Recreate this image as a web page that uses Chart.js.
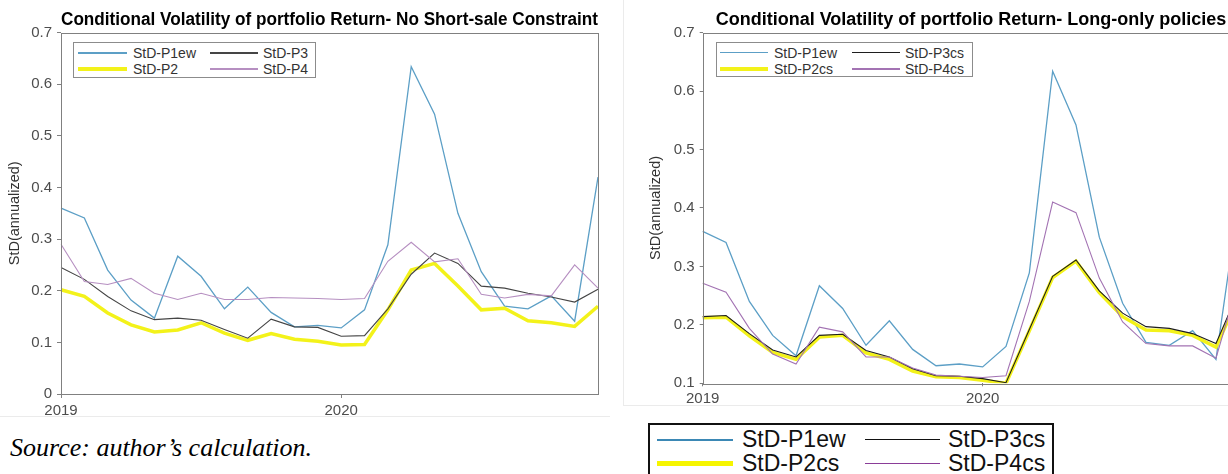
<!DOCTYPE html>
<html>
<head>
<meta charset="utf-8">
<script src="https://cdn.jsdelivr.net/npm/chart.js@4.4.1/dist/chart.umd.min.js"></script>
<style>
  html, body { margin: 0; padding: 0; background: #fff; }
  body { width: 1228px; height: 474px; overflow: hidden; position: relative; font-family: "Liberation Sans", Arial, sans-serif; }
  canvas { position: absolute; top: 0; }
  #graficoIzq { left: 0; }
  #graficoDer { left: 640px; }
  .caja { position: absolute; background: #fff; box-sizing: border-box; }
  .linea { position: absolute; }
  .texto { position: absolute; white-space: nowrap; }
  .borde { position: absolute; background: #ebebeb; }
  #fuente { position: absolute; left: 10px; top: 435px; line-height: 26px; font-family: "Liberation Serif", "Times New Roman", serif; font-style: italic; font-size: 26px; color: #000; }
</style>
</head>
<body>
<div class="borde" style="left:0;top:416px;width:610px;height:1px"></div>
<div class="borde" style="left:623px;top:0;width:1px;height:405px"></div>
<div class="borde" style="left:623px;top:405px;width:605px;height:1px"></div>

<canvas id="graficoIzq" width="610" height="430"></canvas>
<canvas id="graficoDer" width="610" height="420"></canvas>

<div class="caja" style="left:73px;top:42px;width:243px;height:36px;border:1px solid #8c8c8c"></div>
<div class="caja" style="left:716px;top:42px;width:257px;height:35px;border:1px solid #8c8c8c"></div>
<div class="caja" style="left:648px;top:423px;width:406px;height:70px;border:2px solid #111"></div>

<div id="fuente">Source: author’s calculation.</div>

<script>
// meses (enero 2019 - diciembre 2020)
const meses = ['2019-01', '2019-02', '2019-03', '2019-04', '2019-05', '2019-06',
               '2019-07', '2019-08', '2019-09', '2019-10', '2019-11', '2019-12',
               '2020-01', '2020-02', '2020-03', '2020-04', '2020-05', '2020-06',
               '2020-07', '2020-08', '2020-09', '2020-10', '2020-11', '2020-12'];
const anios = ['2019', '2020'];

// sin restriccion de venta en corto
const p1ew = [0.360, 0.341, 0.240, 0.182, 0.147, 0.267, 0.228, 0.165, 0.207, 0.158, 0.130, 0.133,
              0.128, 0.163, 0.289, 0.634, 0.542, 0.350, 0.237, 0.170, 0.165, 0.190, 0.141, 0.420];
const p2 = [0.202, 0.189, 0.157, 0.134, 0.120, 0.124, 0.138, 0.118, 0.104, 0.117, 0.106, 0.102,
            0.095, 0.096, 0.163, 0.240, 0.253, 0.209, 0.163, 0.166, 0.142, 0.138, 0.131, 0.170];
const p3 = [0.245, 0.222, 0.189, 0.161, 0.144, 0.147, 0.143, 0.125, 0.108, 0.145, 0.130, 0.129,
            0.112, 0.113, 0.165, 0.232, 0.273, 0.253, 0.209, 0.205, 0.195, 0.188, 0.178, 0.203];
const p4 = [0.290, 0.218, 0.212, 0.224, 0.195, 0.183, 0.195, 0.183, 0.183, 0.187, 0.186, 0.185,
            0.183, 0.185, 0.257, 0.294, 0.256, 0.262, 0.193, 0.186, 0.193, 0.190, 0.250, 0.205];

// solo posiciones largas
const p2cs = [0.212, 0.213, 0.181, 0.153, 0.141, 0.179, 0.182, 0.152, 0.141, 0.121, 0.111, 0.110,
              0.105, 0.100, 0.190, 0.281, 0.309, 0.255, 0.214, 0.191, 0.190, 0.182, 0.162, 0.250];
const p3cs = [0.214, 0.216, 0.185, 0.157, 0.145, 0.182, 0.184, 0.156, 0.145, 0.125, 0.113, 0.112,
              0.108, 0.101, 0.192, 0.283, 0.311, 0.258, 0.220, 0.197, 0.194, 0.185, 0.168, 0.260];
const p4cs = [0.271, 0.256, 0.194, 0.150, 0.133, 0.196, 0.188, 0.145, 0.145, 0.126, 0.114, 0.112,
              0.110, 0.113, 0.240, 0.410, 0.392, 0.280, 0.205, 0.168, 0.164, 0.164, 0.143, 0.280];

const azul = '#5c9fc6';
const amarillo = '#f3f21a';
const grisOscuro = '#454545';
const lila = '#b68fc1';
const violeta = '#a373b3';

Chart.defaults.font.family = '"Liberation Sans", Arial, sans-serif';

// recuadro del area de trazado (estilo matlab)
const marco = {
    id: 'marco',
    afterDatasetsDraw(chart) {
        const { ctx, chartArea: a } = chart;
        ctx.save();
        ctx.strokeStyle = '#808080';
        ctx.lineWidth = 1;
        ctx.strokeRect(Math.round(a.left) + 0.5, Math.round(a.top) + 0.5,
                       Math.round(a.right - a.left), Math.round(a.bottom - a.top));
        ctx.restore();
    }
};

function serie(label, data, color, ancho, orden) {
    return { label: label, data: data, borderColor: color, backgroundColor: color,
             borderWidth: ancho, pointRadius: 0, tension: 0, fill: false, order: orden };
}

// titulo con fullSize false: queda centrado sobre el area de trazado
function opciones(titulo, yMin, anchoY, altoX, padDer, largoTick, padTituloY) {
    return {
        responsive: false,
        animation: false,
        layout: { padding: { left: 0, right: padDer, top: 0, bottom: 0 } },
        plugins: {
            legend: { display: false },
            tooltip: { enabled: false },
            title: {
                display: true, text: titulo, color: '#000', fullSize: false,
                font: { size: 18, weight: 'bold' },
                padding: { top: 9, bottom: 2 }
            }
        },
        scales: {
            x: {
                type: 'category',
                border: { display: false },
                grid: { drawOnChartArea: false, tickLength: largoTick, color: '#808080' },
                ticks: {
                    autoSkip: false, maxRotation: 0, padding: 4,
                    color: '#4d4d4d', font: { size: 15 },
                    callback: (v, i) => (i % 12 === 0 ? anios[i / 12] : null)
                },
                afterFit: s => { s.height = altoX; }
            },
            y: {
                min: yMin, max: 0.7,
                border: { display: false },
                grid: { drawOnChartArea: false, tickLength: largoTick, color: '#808080' },
                ticks: { stepSize: 0.1, padding: 5, color: '#4d4d4d', font: { size: 15 } },
                title: {
                    display: true, text: 'StD(annualized)', color: '#333',
                    font: { size: 14.5 }, padding: { top: padTituloY, bottom: 0 }
                },
                afterFit: s => { s.width = anchoY; }
            }
        }
    };
}

new Chart(document.getElementById('graficoIzq'), {
    type: 'line',
    data: {
        labels: meses,
        datasets: [
            serie('StD-P1ew', p1ew, azul, 1.3, 4),
            serie('StD-P2', p2, amarillo, 3.5, 3),
            serie('StD-P3', p3, grisOscuro, 1.1, 2),
            serie('StD-P4', p4, lila, 1.1, 1)
        ]
    },
    options: opciones('Conditional Volatility of portfolio Return- No Short-sale Constraint',
                      0, 61, 36, 12, 4, 6),
    plugins: [marco]
});

new Chart(document.getElementById('graficoDer'), {
    type: 'line',
    data: {
        labels: meses,
        datasets: [
            serie('StD-P1ew', p1ew, azul, 1.3, 4),
            serie('StD-P2cs', p2cs, amarillo, 3.5, 3),
            serie('StD-P3cs', p3cs, '#1e1e1e', 1.1, 2),
            serie('StD-P4cs', p4cs, violeta, 1.1, 1)
        ]
    },
    options: opciones('Conditional Volatility of portfolio Return- Long-only policies',
                      0.1, 62.7, 36.7, 10.7, 3, 6.8),
    plugins: [marco]
});

// leyendas en html
function entrada(x1, x2, cy, color, grosor, xTexto, texto, tam, colorTexto) {
    const l = document.createElement('div');
    l.className = 'linea';
    l.style.cssText = `left:${x1}px;top:${cy - grosor / 2}px;width:${x2 - x1}px;height:${grosor}px;background:${color}`;
    document.body.appendChild(l);
    const t = document.createElement('div');
    t.className = 'texto';
    t.textContent = texto;
    t.style.cssText = `left:${xTexto}px;top:${cy - tam / 2}px;font-size:${tam}px;line-height:${tam}px;color:${colorTexto}`;
    document.body.appendChild(t);
}

entrada(78, 127, 53, azul, 1.3, 133, 'StD-P1ew', 14, '#333');
entrada(78, 127, 69, amarillo, 3.5, 133, 'StD-P2', 14, '#333');
entrada(210, 258, 53, grisOscuro, 1.1, 263, 'StD-P3', 14, '#333');
entrada(210, 258, 69, lila, 1.1, 263, 'StD-P4', 14, '#333');

entrada(720, 768, 52.5, azul, 1.3, 774, 'StD-P1ew', 14, '#333');
entrada(720, 768, 69, amarillo, 3.5, 774, 'StD-P2cs', 14, '#333');
entrada(852, 900, 52.5, '#1e1e1e', 1.1, 905, 'StD-P3cs', 14, '#333');
entrada(852, 900, 69, violeta, 1.1, 905, 'StD-P4cs', 14, '#333');

entrada(657, 733, 439.5, '#3b88b5', 2, 742, 'StD-P1ew', 23, '#111');
entrada(657, 733, 463.5, '#f6f500', 5, 742, 'StD-P2cs', 23, '#111');
entrada(865, 940, 439.5, '#111', 1.6, 948, 'StD-P3cs', 23, '#111');
entrada(865, 940, 463.5, '#8a3d98', 1.6, 948, 'StD-P4cs', 23, '#111');
</script>
</body>
</html>
